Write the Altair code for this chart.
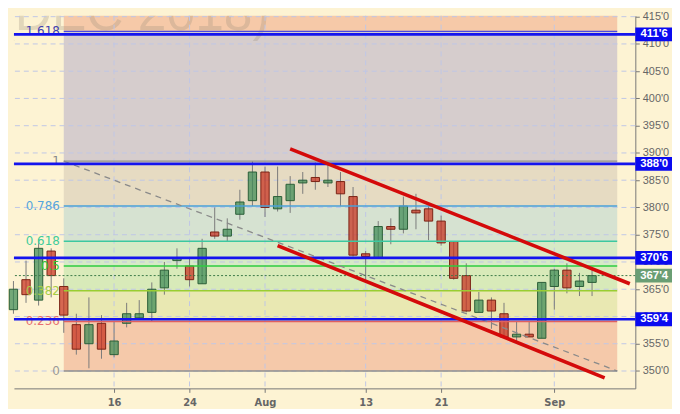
import altair as alt
import numpy as np
import pandas as pd

# ---------------- data ----------------
idx = list(range(47))
opens = [361.25, 366.75, 363.0, 372.0, 365.5, 358.5, 355.0, 358.75, 353.0, 358.75,
         359.75, 360.75, 365.25, 370.25, 369.25, 366.0, 375.5, 374.75, 378.75, 381.25,
         386.5, 379.75, 381.25, 384.5, 385.5, 384.5, 384.75, 382.0, 371.5, 370.75,
         376.5, 376.0, 379.5, 379.75, 377.5, 373.75, 367.5, 360.75, 363.0, 360.5,
         356.25, 356.75, 356.0, 365.5, 368.5, 365.5, 366.25]
highs = [366.5, 370.25, 374.25, 372.5, 367.0, 360.5, 363.5, 360.25, 359.0, 362.5,
         363.0, 366.25, 370.0, 372.5, 370.75, 374.25, 380.0, 378.0, 383.25, 388.5,
         387.5, 387.5, 385.75, 386.5, 388.25, 387.75, 386.5, 383.75, 372.0, 377.5,
         378.0, 382.0, 382.5, 380.25, 378.5, 373.75, 369.75, 364.5, 363.5, 362.5,
         359.0, 359.0, 366.25, 368.75, 369.75, 368.0, 368.5]
lows = [360.5, 362.5, 362.0, 363.5, 357.0, 353.0, 350.5, 352.25, 352.5, 358.0,
        359.5, 359.0, 364.0, 368.75, 365.5, 366.0, 374.25, 373.75, 377.75, 380.25,
        378.25, 379.25, 379.0, 382.5, 383.25, 383.75, 380.25, 371.0, 366.75, 370.75,
        373.25, 375.25, 376.0, 374.0, 373.0, 366.75, 360.75, 360.75, 357.75, 356.25,
        355.5, 356.25, 356.0, 361.25, 364.25, 363.75, 363.75]
closes = [365.0, 364.0, 372.5, 367.5, 360.25, 354.0, 358.5, 354.0, 355.5, 360.5,
          360.5, 365.0, 368.5, 370.75, 366.75, 372.5, 374.75, 376.0, 381.0, 386.5,
          380.0, 382.0, 384.25, 385.0, 384.75, 385.0, 382.5, 371.25, 371.0, 376.5,
          376.0, 380.25, 379.0, 377.5, 373.5, 367.0, 361.0, 363.0, 361.0, 356.25,
          356.75, 356.25, 366.25, 368.5, 365.25, 366.5, 367.5]

tick_idx = [8, 14, 20, 28, 34, 43]
tick_lbl = ["16", "24", "Aug", "13", "21", "Sep"]
y_ticks = list(range(350, 416, 5))

fib_low, fib_high = 350.0, 388.5
fib_start, fib_end = 4.0, 48.0
fib_ratios = [0, 0.236, 0.382, 0.5, 0.618, 0.786, 1, 1.618]
fib_text = ["0", "0.236", "0.382", "0.5", "0.618", "0.786", "1", "1.618"]

key_levels = [411.75, 388.0, 370.75, 359.5]
key_labels = ["411'6", "388'0", "370'6", "359'4"]
last_price = 367.5
last_label = "367'4"

chan_upper_x = [22, 49]
chan_upper_y = [390.75, 366.0]
chan_lower_x = [21, 47]
chan_lower_y = [373.0, 348.75]

watermark = "(DEC 2018)"

# ---------------- layout / style ----------------
W, H = 627, 376
XDOM = [0.04, 49.44]
YDOM = [346.81, 415.17]
px_per_unit = H / (YDOM[1] - YDOM[0])

band_colors = ["#f5c9aa", "#e9e8b2", "#d8eab9", "#d6eac6", "#d6e2d1",
               "#e6dbc2", "#d6cdcd", "#f6c9a8"]
fib_line_colors = ["#8f8f8f", "#e06060", "#9acd32", "#2ecc40", "#3cc8a0",
                   "#4aa0d8", "#8f8f8f", "#4a4ae0"]
fib_text_colors = ["#999999", "#e87070", "#a6cc44", "#33cc33", "#40cc9a",
                   "#55a5dd", "#888888", "#4040b0"]

xs = alt.Scale(domain=XDOM, nice=False, zero=False)
ys = alt.Scale(domain=YDOM, nice=False, zero=False)

xlabel_expr = "''"
for i, l in reversed(list(zip(tick_idx, tick_lbl))):
    xlabel_expr = f"datum.value == {i} ? '{l}' : ({xlabel_expr})"

X_AX = alt.Axis(values=tick_idx, labelExpr=xlabel_expr, title=None, grid=False,
                tickSize=4, tickColor="#777777", domainColor="#777777",
                labelColor="#666666", labelFont="DejaVu Sans", labelFontSize=10,
                labelFontWeight="bold", labelPadding=5)
Y_AX = alt.Axis(orient="right", values=y_ticks, title=None, grid=False,
                labelExpr="floor(datum.value) + \"'\" + round((datum.value - floor(datum.value)) * 8)",
                tickSize=4, tickColor="#777777", domainColor="#777777",
                labelColor="#666666", labelFont="Liberation Sans", labelFontSize=11,
                labelPadding=3)


def X(f):
    return alt.X(f, type="quantitative", scale=xs, axis=X_AX)


def Y(f):
    return alt.Y(f, type="quantitative", scale=ys, axis=Y_AX)


# ---------------- tables ----------------
df = pd.DataFrame(dict(i=idx, o=opens, h=highs, l=lows, c=closes))
df["dir"] = np.where(df["c"] >= df["o"], "up", "down")
df["x0"] = df["i"] - 0.33
df["x1"] = df["i"] + 0.33

fib_prices = [fib_low + r * (fib_high - fib_low) for r in fib_ratios]
bands = pd.DataFrame(dict(
    band=[str(k) for k in range(len(fib_prices))],
    lo=fib_prices,
    hi=fib_prices[1:] + [YDOM[1]],
    x0=fib_start, x1=fib_end))
fibs = pd.DataFrame(dict(key=[str(k) for k in range(len(fib_prices))],
                         p=fib_prices, t=fib_text, x0=fib_start, x1=fib_end))
hgrid = pd.DataFrame(dict(y=y_ticks))
vgrid = pd.DataFrame(dict(x=tick_idx))
diag = pd.DataFrame(dict(x=[fib_start, fib_end], y=[fib_high, fib_low]))
chan = pd.DataFrame(dict(
    x=chan_upper_x + chan_lower_x, y=chan_upper_y + chan_lower_y,
    g=["u", "u", "l", "l"]))
keys = pd.DataFrame(dict(p=key_levels))
boxes = pd.DataFrame(dict(p=key_levels + [last_price],
                          t=key_labels + [last_label],
                          k=["key"] * len(key_levels) + ["last"]))
hh = 7.0 / px_per_unit
boxes["lo"] = boxes["p"] - hh
boxes["hi"] = boxes["p"] + hh

# ---------------- layers ----------------
band_layer = alt.Chart(bands).mark_rect().encode(
    x=X("x0"), x2="x1", y=Y("lo"), y2="hi",
    color=alt.Color("band:N", scale=alt.Scale(domain=list(bands["band"]), range=band_colors), legend=None))

wm = alt.Chart(pd.DataFrame(dict(t=[watermark]))).mark_text(
    align="right", baseline="alphabetic", font="Liberation Sans", fontSize=52,
    color="#9a8c7a", opacity=0.28, clip=True).encode(
    x=alt.value(258), y=alt.value(14), text="t:N")

hg = alt.Chart(hgrid).mark_rule(color="#bfc6e6", strokeDash=[5, 4], strokeWidth=1).encode(y=Y("y"))
vg = alt.Chart(vgrid).mark_rule(color="#bfc6e6", strokeDash=[5, 4], strokeWidth=1).encode(x=X("x"))

wicks = alt.Chart(df).mark_rule(color="#7a7a7a", strokeWidth=1).encode(
    x=X("i"), y=Y("l"), y2="h")
bodies = alt.Chart(df).mark_rect(fillOpacity=0.72, strokeWidth=1).encode(
    x=X("x0"), x2="x1", y=Y("o"), y2="c",
    fill=alt.Fill("dir:N", scale=alt.Scale(domain=["up", "down"], range=["#3d8a55", "#c8301e"]), legend=None),
    stroke=alt.Stroke("dir:N", scale=alt.Scale(domain=["up", "down"], range=["#2a5e38", "#7a2214"]), legend=None))

fib_lines = alt.Chart(fibs).mark_rule(strokeWidth=1.4).encode(
    x=X("x0"), x2="x1", y=Y("p"),
    color=alt.Color("key:N", scale=alt.Scale(domain=list(fibs["key"]), range=fib_line_colors), legend=None))
fib_labels = alt.Chart(fibs).mark_text(
    align="right", baseline="middle", dx=-4, font="DejaVu Sans", fontSize=12).encode(
    x=X("x0"), y=Y("p"), text="t:N",
    color=alt.Color("key:N", scale=alt.Scale(domain=list(fibs["key"]), range=fib_text_colors), legend=None))

diag_line = alt.Chart(diag).mark_line(color="#8a8a8a", strokeDash=[6, 5], strokeWidth=1.3).encode(
    x=X("x"), y=Y("y"))

key_lines = alt.Chart(keys).mark_rule(color="#1414ee", strokeWidth=2.6).encode(y=Y("p"))
last_line = alt.Chart(pd.DataFrame(dict(p=[last_price]))).mark_rule(
    color="#3c7a48", strokeDash=[2, 2], strokeWidth=1).encode(y=Y("p"))

chan_lines = alt.Chart(chan).mark_line(color="#d40a0a", strokeWidth=3.6, strokeCap="butt").encode(
    x=X("x"), y=Y("y"), detail="g:N")

box_rects = alt.Chart(boxes).mark_rect().encode(
    x=alt.value(W), x2=alt.value(W + 37), y=Y("lo"), y2="hi",
    color=alt.Color("k:N", scale=alt.Scale(domain=["key", "last"], range=["#0a0af0", "#6a9e74"]), legend=None))
box_text = alt.Chart(boxes).mark_text(
    color="white", font="Liberation Sans", fontSize=11.5, fontWeight="bold",
    align="center", baseline="middle").encode(
    x=alt.value(W + 19), y=Y("p"), text="t:N")

chart = alt.layer(
    band_layer, wm, hg, vg, wicks, bodies, fib_lines, fib_labels, diag_line,
    key_lines, last_line, chan_lines, box_rects, box_text
).resolve_scale(color="independent").properties(
    width=W, height=H, padding=0
).configure(background="#fdf3d3").configure_view(stroke=None)

chart.save("out.html", embed_options={"renderer": "svg", "actions": False})
